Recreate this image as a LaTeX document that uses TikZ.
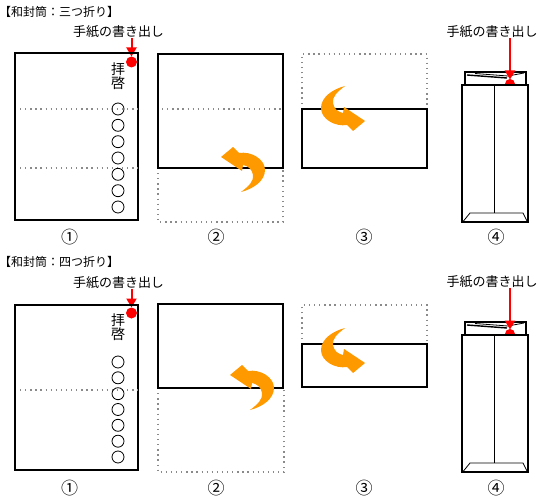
\documentclass[tikz,border=0pt]{standalone}
\usepackage{fontspec}
\newfontfamily\jp{Noto Sans CJK JP}
\usetikzlibrary{arrows.meta}
\definecolor{foldorange}{HTML}{FF9900}
\definecolor{markred}{HTML}{FF0000}
\definecolor{dotgray}{HTML}{8A8A8A}
\tikzset{
  paper/.style={draw=black, line width=2pt},
  foldline/.style={draw=dotgray, line width=1.6pt, dash pattern=on 1.3pt off 3.8pt},
  thinline/.style={draw=black, line width=0.8pt},
  ring/.style={draw=black, line width=0.8pt},
  titletxt/.style={font=\jp\fontsize{12}{12}\selectfont, inner sep=0pt},
  labtxt/.style={font=\jp\fontsize{13}{13}\selectfont, inner sep=0pt},
  chartxt/.style={font=\jp\fontsize{14}{14}\selectfont, inner sep=0pt},
  numtxt/.style={font=\jp\fontsize{17}{17}\selectfont, inner sep=0pt},
  redarrow/.style={draw=markred, line width=2pt, -{Triangle[width=10pt,length=9pt]}},
  foldarr/.pic={
    \fill[foldorange] (0,0) -- (12,-10) -- (18,-4)
      .. controls (30,-6) and (44,2) .. (44,13)
      .. controls (44,24) and (32,32) .. (20,35)
      .. controls (28,29) and (33,24) .. (32,18)
      .. controls (31,12) and (27,9) .. (22,8)
      -- (21,14) -- cycle;
  },
  envletter/.pic={
    \draw[line width=1.6pt, fill=white] (3,-13) rectangle (64,0);
    \draw[line width=1.4pt] (5,-10) -- (45,-7);
    \draw[line width=0.8pt] (13,-11.5) -- (46,-9) -- (62,-12);
  },
  envbody/.pic={
    \draw[line width=2pt, fill=white] (0,0) rectangle (66,137);
    \draw[thinline] (32,0) -- (32,128);
    \draw[thinline] (1.5,136) -- (8,128) -- (61,128) -- (65,136);
  }
}
\begin{document}
\begin{tikzpicture}[x=1pt,y=-1pt]
\useasboundingbox (0,0) rectangle (560,500);
\fill[white] (0,0) rectangle (560,500);

% ================= top section =================
\node[titletxt, anchor=west] (t1) at (-1,11.5) {【和封筒：三つ折り】};
\node[labtxt] (lab1a) at (118.5,32) {手紙の書き出し};
\coordinate (dot1a) at (131.5,62);
\draw[redarrow] (lab1a.south -| dot1a) -- ([yshift=5.5pt]dot1a);
\fill[markred] (dot1a) circle (5.5);

% panel 1
\draw[paper] (15,53) rectangle (138,220);
\draw[foldline] (20,109) -- (138,109);
\draw[foldline] (20,168) -- (138,168);
\node[chartxt] (hai1) at (118,69.5) {拝};
\node[chartxt] (kei1) at (118,83) {啓};
\foreach \yy in {109,125.3,141.7,158,174.3,190.7,207}
  \draw[ring] (118,\yy) circle (6);
\node[numtxt] (n1a) at (69.5,237) {①};

% panel 2
\draw[foldline] (158,168) -- (158,222) -- (283,222) -- (283,168);
\draw[paper] (158,54) rectangle (283,168);
\draw[foldline] (162,109) -- (283,109);
\pic at (221,157) {foldarr};
\node[numtxt] (n2a) at (216,237) {②};

% panel 3
\draw[foldline] (302,109) -- (302,54) -- (427,54) -- (427,109);
\draw[paper] (302,109) rectangle (427,168);
\pic[rotate=180] at (365,121) {foldarr};
\node[numtxt] (n3a) at (364,237) {③};

% panel 4
\node[labtxt] (lab4a) at (492,32) {手紙の書き出し};
\pic at (462,85) {envletter};
\coordinate (dot4a) at (510,84);
\fill[markred] (dot4a) circle (5);
\pic at (462,85) {envbody};
\draw[redarrow] (lab4a.south -| dot4a) -- ([yshift=4.5pt]dot4a);
\node[numtxt] (n4a) at (496,237) {④};

% ================= bottom section =================
\node[titletxt, anchor=west] (t2) at (-1,261.5) {【和封筒：四つ折り】};
\node[labtxt] (lab1b) at (118.5,283) {手紙の書き出し};
\coordinate (dot1b) at (131.5,313);
\draw[redarrow] (lab1b.south -| dot1b) -- ([yshift=5.5pt]dot1b);
\fill[markred] (dot1b) circle (5.5);

% panel 1
\draw[paper] (15,305) rectangle (138,470);
\draw[foldline] (20,390) -- (138,390);
\node[chartxt] (hai2) at (118,320.5) {拝};
\node[chartxt] (kei2) at (118,334) {啓};
\foreach \yy in {362,377.8,393.7,409.5,425.3,441.2,457}
  \draw[ring] (118,\yy) circle (6);
\node[numtxt] (n1b) at (69.5,488) {①};

% panel 2
\draw[foldline] (158,388) -- (158,472) -- (284,472) -- (284,388);
\draw[paper] (158,304) rectangle (283,388);
\pic at (230,375) {foldarr};
\node[numtxt] (n2b) at (216,488) {②};

% panel 3
\draw[foldline] (302,344) -- (302,305) -- (427,305) -- (427,344);
\draw[paper] (302,344) rectangle (427,387);
\pic[rotate=180] at (365,363) {foldarr};
\node[numtxt] (n3b) at (364,488) {③};

% panel 4
\node[labtxt] (lab4b) at (492,282) {手紙の書き出し};
\pic at (462,335) {envletter};
\coordinate (dot4b) at (510,334);
\fill[markred] (dot4b) circle (5);
\pic at (462,335) {envbody};
\draw[redarrow] (lab4b.south -| dot4b) -- ([yshift=4.5pt]dot4b);
\node[numtxt] (n4b) at (496,488) {④};
\end{tikzpicture}
\end{document}
